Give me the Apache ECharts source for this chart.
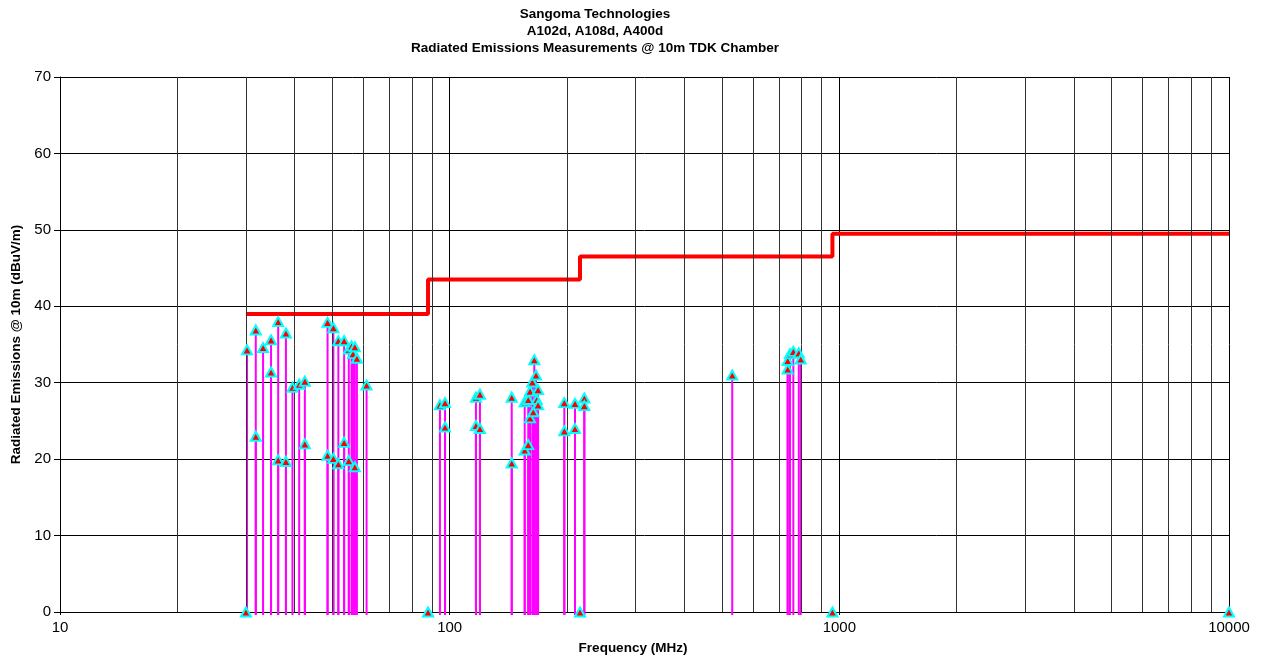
<!DOCTYPE html>
<html>
<head>
<meta charset="utf-8">
<script src="https://cdn.jsdelivr.net/npm/echarts@6/dist/echarts.min.js"></script>
<style>html,body{margin:0;padding:0;background:#fff}#c{width:1268px;height:661px}</style>
</head>
<body>
<div id="c"></div>
<script>
// Measured emissions (MHz, dBuV/m)
const emFreq = [
  30.2, 31.8, 31.8, 33.2, 34.8, 34.8, 36.3, 36.3, 38.0, 38.0,
  39.5, 41.1, 42.5, 42.5, 48.6, 48.6, 50.3, 50.3, 51.8, 51.8,
  53.6, 53.6, 55.1, 55.1, 56.0, 56.5, 57.1, 57.1, 57.8, 61.2,
  94.4, 97.3, 97.3, 116.8, 116.8, 119.6, 119.6, 144.3, 144.3, 155.8,
  155.8, 159.1, 159.1, 160.8, 160.8, 163.0, 163.9, 164.9, 166.6, 167.3,
  168.6, 168.6, 196.9, 196.9, 209.7, 209.7, 221.6, 221.6,
  531, 737, 737, 747, 762, 787, 796
];
const emLevel = [
  34.3, 36.9, 23.0, 34.6, 35.6, 31.4, 38.0, 19.9, 36.5, 19.7,
  29.4, 29.8, 30.2, 22.0, 37.9, 20.5, 37.2, 20.1, 35.5, 19.4,
  35.5, 22.2, 34.4, 19.8, 34.8, 33.8, 34.7, 19.0, 33.2, 29.7,
  27.1, 27.4, 24.2, 28.1, 24.4, 28.5, 24.0, 28.1, 19.5, 27.5,
  21.2, 27.8, 21.9, 28.9, 25.4, 30.1, 26.2, 33.0, 31.0, 27.8,
  29.1, 27.1, 27.4, 23.7, 27.3, 24.0, 28.0, 27.0,
  31.0, 31.8, 32.9, 33.8, 34.1, 33.9, 33.1
];
// Markers on the baseline at the limit corner frequencies
const zeroFreq = [30, 88, 216, 960, 10000];
const zeroLevel = [0, 0, 0, 0, 0];
// Limit line (step)
const limitFreq = [30, 88, 216, 960, 10000];
const limitLevel = [39, 43.5, 46.5, 49.5, 49.5];
// Axis ticks / grid
const xMajorTicks = [10, 100, 1000, 10000];
const xGridLines = [20,30,40,50,60,70,80,90,200,300,400,500,600,700,800,900,2000,3000,4000,5000,6000,7000,8000,9000];
const yTicks = [0, 10, 20, 30, 40, 50, 60, 70];

const FONT = '"Liberation Sans", Arial, sans-serif';
const emData = emFreq.map((f, i) => [f, emLevel[i]]);
const zeroData = zeroFreq.map((f, i) => [f, zeroLevel[i]]);
const limitData = limitFreq.map((f, i) => [f, limitLevel[i]]);

const chart = echarts.init(document.getElementById('c'), null, {renderer: 'canvas'});
chart.setOption({
  animation: false,
  backgroundColor: '#fff',
  title: {
    text: 'Sangoma Technologies\nA102d, A108d, A400d\nRadiated Emissions Measurements @ 10m TDK Chamber',
    left: 590, top: 1, textAlign: 'center',
    textStyle: {fontFamily: FONT, fontSize: 13.5, fontWeight: 'bold', color: '#000', lineHeight: 17}
  },
  grid: {left: 60, right: 39, top: 77, bottom: 49, containLabel: false},
  xAxis: {
    type: 'log', logBase: 10, min: xMajorTicks[0], max: xMajorTicks[xMajorTicks.length - 1],
    name: 'Frequency (MHz)', nameLocation: 'middle', nameGap: 29,
    nameTextStyle: {fontFamily: FONT, fontSize: 13.5, fontWeight: 'bold', color: '#000', padding: [0, 23, 0, 0]},
    axisLine: {show: true, onZero: false, lineStyle: {color: '#000', width: 1}},
    axisTick: {show: true, length: 3, inside: false, lineStyle: {color: '#000'}},
    axisLabel: {fontFamily: FONT, fontSize: 15, color: '#000', margin: 8,
      formatter: function (v) { return String(Math.round(v)); }},
    splitLine: {show: true, lineStyle: {color: '#000', width: 1}},
    minorTick: {show: false}, minorSplitLine: {show: false}
  },
  yAxis: {
    type: 'value', min: yTicks[0], max: yTicks[yTicks.length - 1], interval: 10,
    name: 'Radiated Emissions @ 10m (dBuV/m)', nameLocation: 'middle', nameGap: 37, nameRotate: 90,
    nameTextStyle: {fontFamily: FONT, fontSize: 13.5, fontWeight: 'bold', color: '#000'},
    axisLine: {show: true, lineStyle: {color: '#000', width: 1}},
    axisTick: {show: true, length: 6, lineStyle: {color: '#000'}},
    axisLabel: {fontFamily: FONT, fontSize: 15, color: '#000', margin: 9},
    splitLine: {show: true, lineStyle: {color: '#000', width: 1}}
  },
  series: [
    {
      type: 'line', data: [], silent: true,
      markLine: {
        silent: true, symbol: ['none', 'none'], animation: false,
        label: {show: false},
        lineStyle: {color: '#333', width: 1, type: 'solid'},
        data: xGridLines.map(v => ({xAxis: v}))
      }
    },
    {
      type: 'line', data: limitData, step: 'end', showSymbol: false, symbol: 'none',
      lineStyle: {color: '#ff0000', width: 4}, z: 3
    },
    {
      type: 'custom', data: emData, z: 4,
      renderItem: function (params, api) {
        const top = api.coord([api.value(0), api.value(1)]);
        const base = api.coord([api.value(0), 0]);
        return {
          type: 'line',
          shape: {x1: top[0], y1: top[1], x2: base[0], y2: base[1] + 3},
          style: {stroke: '#ff00ff', lineWidth: 2}
        };
      }
    },
    {
      type: 'scatter', data: emData.concat(zeroData), symbol: 'triangle', symbolSize: [10, 9], z: 5,
      itemStyle: {color: '#ff0000', borderColor: '#00ffff', borderWidth: 2, opacity: 1}
    }
  ]
});
</script>
</body>
</html>
